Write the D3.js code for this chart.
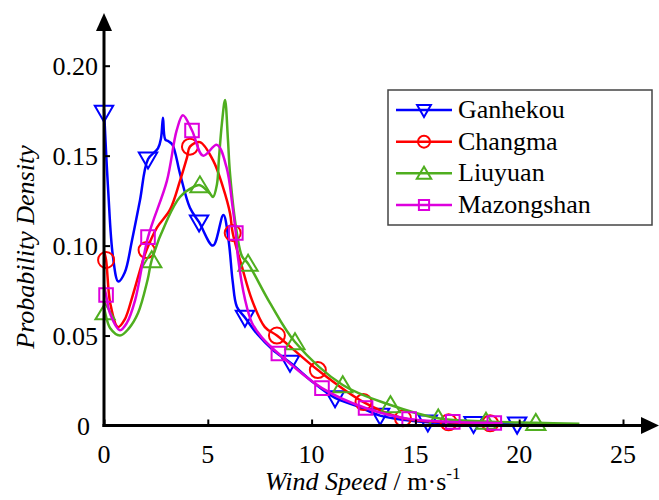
<!DOCTYPE html>
<html>
<head>
<meta charset="utf-8">
<script src="https://cdn.jsdelivr.net/npm/d3@7"></script>
<style>
  svg text, svg tspan { font-family: 'Liberation Serif', 'Times New Roman', Tinos, serif !important; }
</style>
</head>
<body style="margin:0">
<svg id="c" width="659" height="500" style="display:block"></svg>
<script>
// ---------------- data ----------------
const seriesNames = ["Ganhekou", "Changma", "Liuyuan", "Mazongshan"];
const xTicks = [0, 5, 10, 15, 20, 25];
const yTicks = [0, 0.05, 0.10, 0.15, 0.20];
const yTickLabels = ["0", "0.05", "0.10", "0.15", "0.20"];

// curve samples (wind speed m/s, density)
const xGanhekou = [0, 0.2, 0.43, 0.69, 1.0, 1.35, 1.73, 2.12, 2.6, 2.75, 2.84, 2.95, 3.1, 3.3, 3.66, 4.14, 4.58, 5.25, 5.75, 6.0, 6.2, 6.4, 6.79, 7.37, 8.14, 8.96, 10.07, 11.13, 12.3, 13.3, 14.5, 15.6, 17.8, 19.9, 20.4];
const yGanhekou = [0.176, 0.131, 0.094, 0.080, 0.085, 0.103, 0.125, 0.148, 0.154, 0.160, 0.171, 0.159, 0.158, 0.156, 0.140, 0.121, 0.113, 0.100, 0.117, 0.103, 0.080, 0.066, 0.060, 0.051, 0.042, 0.035, 0.024, 0.0153, 0.0103, 0.0055, 0.003, 0.0018, 0.001, 0.0006, 0.0005];
const mxGanhekou = [0, 2.12, 4.58, 6.79, 8.96, 11.13, 13.3, 15.6, 17.8, 19.9];
const myGanhekou = [0.174, 0.148, 0.113, 0.060, 0.035, 0.0153, 0.0055, 0.0018, 0.001, 0.0006];

const xChangma = [0, 0.1, 0.3, 0.67, 1.0, 1.35, 1.83, 2.05, 2.55, 3.18, 3.66, 4.0, 4.14, 4.62, 5.25, 5.73, 6.07, 6.2, 6.65, 7.13, 7.75, 8.33, 10.3, 12.5, 14.4, 16.6, 18.6, 19.0];
const yChangma = [0.097, 0.092, 0.068, 0.0547, 0.059, 0.071, 0.090, 0.0975, 0.110, 0.120, 0.136, 0.149, 0.155, 0.1575, 0.1475, 0.1325, 0.118, 0.107, 0.088, 0.0697, 0.0547, 0.050, 0.0308, 0.013, 0.004, 0.0018, 0.0012, 0.0011];
const mxChangma = [0.1, 2.05, 4.14, 6.2, 8.33, 10.3, 12.5, 14.4, 16.6, 18.6];
const myChangma = [0.092, 0.0975, 0.155, 0.107, 0.050, 0.0308, 0.013, 0.004, 0.0018, 0.0012];

const xLiuyuan = [0, 0.05, 0.3, 0.77, 1.2, 1.64, 2.1, 2.3, 3.03, 3.66, 4.29, 4.62, 5.1, 5.25, 5.44, 5.54, 5.68, 5.83, 5.97, 6.07, 6.4, 6.65, 6.94, 8.0, 9.2, 11.5, 13.8, 16.1, 18.4, 20.8, 22.9];
const yLiuyuan = [0.066, 0.063, 0.054, 0.050, 0.054, 0.0625, 0.081, 0.092, 0.114, 0.127, 0.1325, 0.1336, 0.129, 0.127, 0.134, 0.149, 0.168, 0.181, 0.159, 0.140, 0.107, 0.094, 0.090, 0.068, 0.0464, 0.0225, 0.0114, 0.004, 0.0022, 0.0015, 0.001];
const mxLiuyuan = [0.05, 2.3, 4.62, 6.94, 9.2, 11.5, 13.8, 16.1, 18.4, 20.8];
const myLiuyuan = [0.063, 0.092, 0.1336, 0.090, 0.0464, 0.0225, 0.0114, 0.004, 0.0022, 0.0015];

const xMazongshan = [0, 0.1, 0.3, 0.77, 1.1, 1.5, 2.12, 3.03, 3.5, 3.8, 4.24, 4.77, 5.44, 5.9, 6.2, 6.35, 6.45, 6.8, 7.13, 7.6, 8.4, 10.5, 12.6, 14.7, 16.8, 18.8, 19.2];
const yMazongshan = [0.078, 0.0725, 0.062, 0.053, 0.057, 0.0697, 0.1047, 0.136, 0.164, 0.1725, 0.164, 0.150, 0.156, 0.1436, 0.121, 0.107, 0.0937, 0.0697, 0.057, 0.049, 0.040, 0.0208, 0.0097, 0.0036, 0.002, 0.0014, 0.0013];
const mxMazongshan = [0.1, 2.12, 4.24, 6.35, 8.4, 10.5, 12.6, 14.7, 16.8, 18.8];
const myMazongshan = [0.0725, 0.1047, 0.164, 0.107, 0.040, 0.0208, 0.0097, 0.0036, 0.002, 0.0014];

// ---------------- build ----------------
const colors = ["#0000ff", "#ff0000", "#4fae1f", "#dd00dd"];
const markers = ["tridown", "circle", "triup", "square"];
const series = [
  {x: xGanhekou, y: yGanhekou, mx: mxGanhekou, my: myGanhekou},
  {x: xChangma, y: yChangma, mx: mxChangma, my: myChangma},
  {x: xLiuyuan, y: yLiuyuan, mx: mxLiuyuan, my: myLiuyuan},
  {x: xMazongshan, y: yMazongshan, mx: mxMazongshan, my: myMazongshan}
].map((s, i) => ({
  name: seriesNames[i], color: colors[i], marker: markers[i],
  line: s.x.map((v, j) => [v, s.y[j]]),
  pts: s.mx.map((v, j) => [v, s.my[j]])
}));

const FF = "'Liberation Serif', 'Times New Roman', Tinos, serif";
const FONT = 26;
const svg = d3.select("#c");
const x = d3.scaleLinear().domain([0, 25]).range([104, 623]);
const y = d3.scaleLinear().domain([0, 0.2]).range([425.5, 65.7]);

function txt(sel) {
  return sel.attr("font-family", "Liberation Serif").style("font-family", FF, "important");
}

function markerPath(type, s) {
  const h = s / 2;
  if (type === "tridown") return `M${-h * 1.15},${-h * 0.85}L${h * 1.15},${-h * 0.85}L0,${h * 1.15}Z`;
  if (type === "triup") return `M${-h * 1.2},${h * 0.9}L${h * 1.2},${h * 0.9}L0,${-h * 1.1}Z`;
  if (type === "square") return `M${-h * 0.85},${-h * 0.85}H${h * 0.85}V${h * 0.85}H${-h * 0.85}Z`;
  const r = h;
  return `M${r},0A${r},${r} 0 1,1 ${-r},0A${r},${r} 0 1,1 ${r},0Z`;
}

// curves and markers
const lineGen = d3.line().x(d => x(d[0])).y(d => y(d[1])).curve(d3.curveCatmullRom.alpha(0.5));
const gLines = svg.append("g");
series.forEach(s => {
  gLines.append("path").attr("d", lineGen(s.line))
    .attr("fill", "none").attr("stroke", s.color).attr("stroke-width", 2.5)
    .attr("stroke-linejoin", "round");
  gLines.selectAll(null).data(s.pts).enter().append("path")
    .attr("transform", d => `translate(${x(d[0])},${y(d[1])})`)
    .attr("d", markerPath(s.marker, 16))
    .attr("fill", "none").attr("stroke", s.color).attr("stroke-width", 2);
});

// tick marks (inside) from d3 axes
const gy = svg.append("g").attr("transform", `translate(${x(0)},0)`)
  .call(d3.axisLeft(y).tickValues(yTicks).tickSizeInner(-6).tickSizeOuter(0).tickFormat(""));
gy.select(".domain").remove();
gy.selectAll(".tick line").attr("stroke", "#000").attr("stroke-width", 2);
gy.selectAll(".tick text").remove();
const gx = svg.append("g").attr("transform", `translate(0,${y(0)})`)
  .call(d3.axisBottom(x).tickValues(xTicks).tickSizeInner(-6).tickSizeOuter(0).tickFormat(""));
gx.select(".domain").remove();
gx.selectAll(".tick line").attr("stroke", "#000").attr("stroke-width", 2);
gx.selectAll(".tick text").remove();

// tick labels
yTicks.forEach((v, i) => {
  txt(svg.append("text")).attr("x", x(0) - (v === 0 ? 14 : 6)).attr("y", y(v) + 9)
    .attr("text-anchor", "end").attr("font-size", FONT)
    .text(yTickLabels[i]);
});
xTicks.forEach(v => {
  txt(svg.append("text")).attr("x", x(v)).attr("y", 463)
    .attr("text-anchor", "middle").attr("font-size", FONT)
    .text(String(v));
});

// axis lines with arrows
svg.append("line").attr("x1", x(0)).attr("x2", x(0)).attr("y1", y(0) + 1.5).attr("y2", 28)
  .attr("stroke", "#000").attr("stroke-width", 3);
svg.append("path").attr("d", `M${x(0)},13L${x(0) + 8},31L${x(0) - 8},31Z`).attr("fill", "#000");
svg.append("line").attr("x1", x(0) - 1.5).attr("x2", 644).attr("y1", y(0)).attr("y2", y(0))
  .attr("stroke", "#000").attr("stroke-width", 3);
svg.append("path").attr("d", `M659,${y(0)}L641,${y(0) - 8.5}L641,${y(0) + 8.5}Z`).attr("fill", "#000");

// axis titles
const xt = txt(svg.append("text")).attr("x", 265).attr("y", 490).attr("font-size", FONT);
xt.append("tspan").attr("font-style", "italic").text("Wind Speed");
xt.append("tspan").text(" / m·s");
xt.append("tspan").attr("font-size", 17).attr("dy", -11).text("-1");

txt(svg.append("text")).attr("transform", "translate(34,247) rotate(-90)")
  .attr("text-anchor", "middle").attr("font-size", FONT).attr("font-style", "italic")
  .text("Probability Density");

// legend
const lg = svg.append("g");
lg.append("rect").attr("x", 388).attr("y", 90).attr("width", 264).attr("height", 135)
  .attr("fill", "#fff").attr("stroke", "#444").attr("stroke-width", 1.5);
const rowY = d3.scalePoint().domain(seriesNames).range([110, 205]);
series.forEach(s => {
  const cy = rowY(s.name);
  lg.append("line").attr("x1", 396).attr("x2", 452).attr("y1", cy).attr("y2", cy)
    .attr("stroke", s.color).attr("stroke-width", 2.5);
  lg.append("path").attr("transform", `translate(424,${cy})`).attr("d", markerPath(s.marker, 12))
    .attr("fill", "none").attr("stroke", s.color).attr("stroke-width", 2);
  txt(lg.append("text")).attr("x", 458).attr("y", cy + 8).attr("font-size", FONT).text(s.name);
});
</script>
</body>
</html>
